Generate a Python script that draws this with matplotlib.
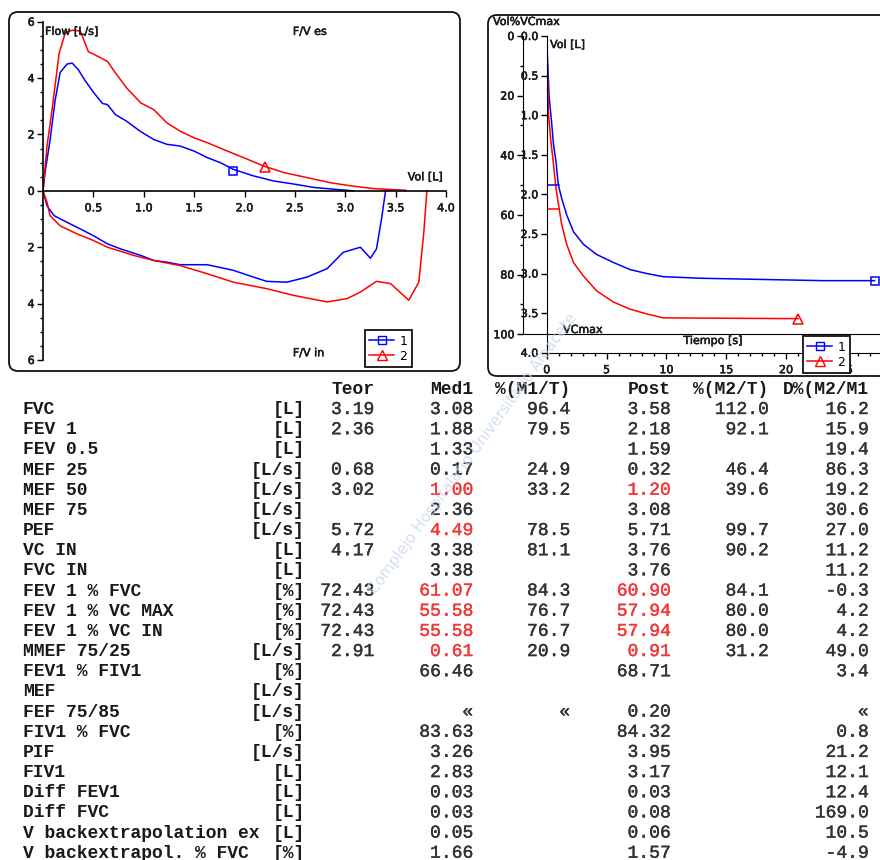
import matplotlib
matplotlib.use("Agg")
import matplotlib.pyplot as plt
import matplotlib.patheffects as pe
from matplotlib.patches import FancyBboxPatch
from matplotlib.lines import Line2D
from matplotlib.ticker import FixedLocator, MultipleLocator, FuncFormatter

W, H = 880, 860
BLUE = "#0000ff"
RED = "#ff0000"
TXT = "#1a1a1a"
NUM = "#333333"
HI = "#f03a3a"

# --- flow / volume loops (1 = Med1, 2 = Post) ---
blue_exp_vol = [0, 0.02, 0.07, 0.12, 0.17, 0.24, 0.29, 0.35, 0.42, 0.50, 0.59, 0.64, 0.72, 0.83,
                0.97, 1.10, 1.23, 1.36, 1.50, 1.63, 1.76, 1.89, 2.09, 2.29, 2.49, 2.69, 2.88, 3.08]
blue_exp_flow = [0, 0.65, 1.8, 3.2, 4.2, 4.5, 4.53, 4.3, 3.9, 3.5, 3.1, 3.06, 2.7, 2.47,
                 2.1, 1.82, 1.65, 1.59, 1.41, 1.18, 1.0, 0.76, 0.53, 0.35, 0.24, 0.12, 0.06, 0.0]
blue_in_vol = [0, 0.04, 0.11, 0.24, 0.37, 0.50, 0.64, 0.77, 0.97, 1.10, 1.23, 1.36, 1.63, 1.89,
               2.09, 2.22, 2.42, 2.62, 2.82, 2.98, 3.15, 3.25, 3.31, 3.36, 3.40]
blue_in_flow = [0, -0.53, -0.88, -1.12, -1.35, -1.59, -1.88, -2.06, -2.29, -2.47, -2.53, -2.62, -2.62, -2.82,
                -3.06, -3.21, -3.24, -3.06, -2.76, -2.18, -2.0, -2.39, -2.06, -1.0, 0.0]
red_exp_vol = [0, 0.04, 0.09, 0.16, 0.22, 0.29, 0.37, 0.45, 0.55, 0.64, 0.72, 0.83, 0.97, 1.10,
               1.23, 1.36, 1.50, 1.63, 1.83, 1.99, 2.19, 2.39, 2.62, 2.85, 3.05, 3.28, 3.60]
red_exp_flow = [0, 1.59, 2.88, 4.88, 5.59, 5.7, 5.67, 4.94, 4.76, 4.59, 4.18, 3.65, 3.12, 2.88,
                2.41, 2.12, 1.88, 1.71, 1.41, 1.18, 0.88, 0.65, 0.47, 0.29, 0.18, 0.08, 0.02]
red_in_vol = [0, 0.04, 0.07, 0.17, 0.34, 0.50, 0.64, 0.90, 1.10, 1.36, 1.63, 1.89, 2.22, 2.49,
              2.82, 3.02, 3.15, 3.31, 3.45, 3.63, 3.73, 3.78, 3.81]
red_in_flow = [0, -0.41, -0.88, -1.24, -1.53, -1.76, -2.0, -2.29, -2.47, -2.65, -2.94, -3.24, -3.47, -3.71,
               -3.94, -3.82, -3.59, -3.21, -3.29, -3.88, -3.24, -1.47, 0.0]
fv_marker_blue = (1.89, 0.72)
fv_marker_red = (2.20, 0.85)

# --- volume / time ---
blue_t = [0, 0.05, 0.2, 0.42, 0.56, 0.78, 0.97, 1.25, 1.67, 2.23, 3.06, 4.18, 5.57, 6.96, 8.36, 9.75, 12.95, 23.1, 27.4]
blue_v = [0, 0.22, 0.76, 1.11, 1.36, 1.59, 1.88, 2.05, 2.26, 2.47, 2.63, 2.76, 2.86, 2.95, 3.0, 3.04, 3.06, 3.09, 3.09]
red_t = [0, 0.14, 0.33, 0.56, 0.78, 1.03, 1.25, 1.67, 2.23, 3.06, 4.18, 5.57, 6.96, 8.36, 9.75, 21.0]
red_v = [0, 0.97, 1.3, 1.61, 1.93, 2.17, 2.38, 2.63, 2.86, 3.03, 3.22, 3.36, 3.45, 3.51, 3.56, 3.57]
fev1_med1 = 1.88
fev1_post = 2.18

# --- results table ---
header = ["Teor", "Med1", "%(M1/T)", "Post", "%(M2/T)", "D%(M2/M1"]
params = ["FVC", "FEV 1", "FEV 0.5", "MEF 25", "MEF 50", "MEF 75", "PEF", "VC IN", "FVC IN",
          "FEV 1 % FVC", "FEV 1 % VC MAX", "FEV 1 % VC IN", "MMEF 75/25", "FEV1 % FIV1", "MEF",
          "FEF 75/85", "FIV1 % FVC", "PIF", "FIV1", "Diff FEV1", "Diff FVC",
          "V backextrapolation ex", "V backextrapol. % FVC"]
units = ["[L]", "[L]", "[L]", "[L/s]", "[L/s]", "[L/s]", "[L/s]", "[L]", "[L]", "[%]", "[%]", "[%]",
         "[L/s]", "[%]", "[L/s]", "[L/s]", "[%]", "[L/s]", "[L]", "[L]", "[L]", "[L]", "[%]"]
teor = ["3.19", "2.36", "", "0.68", "3.02", "", "5.72", "4.17", "", "72.43", "72.43", "72.43",
        "2.91", "", "", "", "", "", "", "", "", "", ""]
med1 = ["3.08", "1.88", "1.33", "0.17", "1.00", "2.36", "4.49", "3.38", "3.38", "61.07", "55.58", "55.58",
        "0.61", "66.46", "", "«", "83.63", "3.26", "2.83", "0.03", "0.03", "0.05", "1.66"]
pct_m1t = ["96.4", "79.5", "", "24.9", "33.2", "", "78.5", "81.1", "", "84.3", "76.7", "76.7",
           "20.9", "", "", "«", "", "", "", "", "", "", ""]
post = ["3.58", "2.18", "1.59", "0.32", "1.20", "3.08", "5.71", "3.76", "3.76", "60.90", "57.94", "57.94",
        "0.91", "68.71", "", "0.20", "84.32", "3.95", "3.17", "0.03", "0.08", "0.06", "1.57"]
pct_m2t = ["112.0", "92.1", "", "46.4", "39.6", "", "99.7", "90.2", "", "84.1", "80.0", "80.0",
           "31.2", "", "", "", "", "", "", "", "", "", ""]
d_pct = ["16.2", "15.9", "19.4", "86.3", "19.2", "30.6", "27.0", "11.2", "11.2", "-0.3", "4.2", "4.2",
         "49.0", "3.4", "", "«", "0.8", "21.2", "12.1", "12.4", "169.0", "10.5", "-4.9"]
red_med1_rows = [4, 6, 9, 10, 11, 12]
red_post_rows = [4, 9, 10, 11, 12]


def px_rect(x0, y0, x1, y1):
    return [x0 / W, 1 - y1 / H, (x1 - x0) / W, (y1 - y0) / H]


def heavy(color, lw=0.5):
    return [pe.withStroke(linewidth=lw, foreground=color)]


def style_ticks(ax):
    ax.tick_params(which="major", direction="out", length=4, width=1, color="black",
                   labelsize=8, labelcolor=TXT, pad=2)
    ax.tick_params(which="minor", direction="out", length=2.5, width=1, color="black")
    for lab in ax.get_xticklabels() + ax.get_yticklabels():
        lab.set_path_effects(heavy(TXT, 0.4))


fig = plt.figure(figsize=(W / 100, H / 100), dpi=100, facecolor="white")

# background layer in pixel coordinates
bg = fig.add_axes([0, 0, 1, 1], zorder=-5)
bg.set_xlim(0, W)
bg.set_ylim(H, 0)
bg.axis("off")
for (x0, y0, x1, y1) in [(9, 12, 460, 371), (488, 15, 905, 376)]:
    bg.add_patch(FancyBboxPatch((x0, y0), x1 - x0, y1 - y0,
                                boxstyle="round,pad=0,rounding_size=9",
                                facecolor="none", edgecolor="#111111", linewidth=1.3))

# ---------- flow-volume ----------
ax1 = fig.add_axes(px_rect(43, 21.7, 446, 360))
ax1.set_facecolor("none")
ax1.plot(blue_exp_vol, blue_exp_flow, color=BLUE, lw=1.1)
ax1.plot(blue_in_vol, blue_in_flow, color=BLUE, lw=1.1)
ax1.plot(red_exp_vol, red_exp_flow, color=RED, lw=1.1)
ax1.plot(red_in_vol, red_in_flow, color=RED, lw=1.1)
ax1.plot(*fv_marker_blue, marker="s", ms=6, mfc="none", mec=BLUE, mew=1.1)
ax1.plot(*fv_marker_red, marker="^", ms=6.5, mfc="none", mec=RED, mew=1.1)
ax1.set_xlim(0, 4.0)
ax1.set_ylim(-6, 6)
ax1.spines["top"].set_visible(False)
ax1.spines["right"].set_visible(False)
ax1.spines["bottom"].set_position(("data", 0))
ax1.spines["left"].set_linewidth(1.2)
ax1.spines["bottom"].set_linewidth(1.2)
ax1.xaxis.set_major_locator(FixedLocator([0.5, 1.0, 1.5, 2.0, 2.5, 3.0, 3.5, 4.0]))
ax1.xaxis.set_major_formatter(FuncFormatter(lambda v, p: f"{v:.1f}"))
ax1.yaxis.set_major_locator(MultipleLocator(2))
ax1.yaxis.set_minor_locator(MultipleLocator(0.5))
ax1.yaxis.set_major_formatter(FuncFormatter(lambda v, p: f"{abs(v):g}"))
style_ticks(ax1)
ax1.tick_params(axis="x", pad=5)
for s, xx, yy in [("Flow [L/s]", 0.005, 0.97), ("F/V es", 0.62, 0.97),
                  ("Vol [L]", 0.905, 0.54), ("F/V in", 0.62, 0.02)]:
    ax1.text(xx, yy, s, transform=ax1.transAxes, fontsize=8, color=TXT, va="center",
             path_effects=heavy(TXT, 0.4))

handles = [Line2D([], [], color=BLUE, lw=1.1, marker="s", ms=6, mfc="none", mec=BLUE),
           Line2D([], [], color=RED, lw=1.1, marker="^", ms=6.5, mfc="none", mec=RED)]
for (lx, ly) in [(365, 367), (803, 373)]:
    leg = fig.legend(handles, ["1", "2"], loc="lower left",
                     bbox_to_anchor=(lx / W, 1 - ly / H), bbox_transform=fig.transFigure,
                     fontsize=9, fancybox=False, framealpha=1, edgecolor="#111111",
                     handlelength=2.0, handletextpad=0.4, borderpad=0.35,
                     labelspacing=0.15, borderaxespad=0)
    leg.get_frame().set_linewidth(1.3)

# ---------- volume-time ----------
axp = fig.add_axes(px_rect(522.7, 36, 880, 334.3))
axp.set_facecolor("none")
axp.set_xlim(0, 1)
axp.set_ylim(100, 0)
axp.spines["top"].set_visible(False)
axp.spines["right"].set_visible(False)
axp.set_xticks([])
axp.yaxis.set_major_locator(MultipleLocator(20))
axp.yaxis.set_minor_locator(MultipleLocator(10))
style_ticks(axp)

axv = fig.add_axes(px_rect(546.7, 36, 880, 352.7))
axv.set_facecolor("none")
axv.plot(blue_t, blue_v, color=BLUE, lw=1.1)
axv.plot(red_t, red_v, color=RED, lw=1.1)
axv.plot([0, 1], [fev1_med1, fev1_med1], color=BLUE, lw=1.1)
axv.plot([0, 1], [fev1_post, fev1_post], color=RED, lw=1.1)
axv.plot(blue_t[-1], blue_v[-1], marker="s", ms=6, mfc="none", mec=BLUE, mew=1.1, clip_on=False)
axv.plot(red_t[-1], red_v[-1], marker="^", ms=6.5, mfc="none", mec=RED, mew=1.1)
axv.set_xlim(0, 27.85)
axv.set_ylim(4.0, 0)
axv.spines["top"].set_visible(False)
axv.spines["right"].set_visible(False)
axv.xaxis.set_major_locator(MultipleLocator(5))
axv.xaxis.set_minor_locator(MultipleLocator(1))
axv.yaxis.set_major_locator(MultipleLocator(0.5))
axv.yaxis.set_major_formatter(FuncFormatter(lambda v, p: f"{v:.1f}"))
style_ticks(axv)
axv.tick_params(axis="x", pad=5)

for s, xx, yy, ha in [("Vol%VCmax", 493, 22, "left"), ("Vol [L]", 550, 45, "left"),
                      ("VCmax", 563, 330, "left"), ("Tiempo [s]", 713, 341, "center")]:
    bg.text(xx, yy, s, fontsize=8, color=TXT, va="center", ha=ha, path_effects=heavy(TXT, 0.4))

# ---------- table ----------
mono = "Liberation Mono"
fs = 13
col_right = [374, 473, 570, 670.5, 768.5, 868.5]
hb = 394.5
for x, h in zip(col_right, header):
    bg.text(x, hb, h, family=mono, fontsize=fs, weight="bold", color=TXT, ha="right", va="baseline")

cols = [teor, med1, pct_m1t, post, pct_m2t, d_pct]
for i, name in enumerate(params):
    yb = 414 + i * 20.17
    bg.text(23, yb, name, family=mono, fontsize=fs, weight="bold", color=TXT, va="baseline")
    bg.text(305, yb, units[i], family=mono, fontsize=fs, weight="bold", color=TXT, ha="right", va="baseline")
    for j, col in enumerate(cols):
        c = NUM
        if (j == 1 and i in red_med1_rows) or (j == 3 and i in red_post_rows):
            c = HI
        bg.text(col_right[j], yb, col[i], family=mono, fontsize=fs, color=c, ha="right", va="baseline",
                path_effects=heavy(c, 0.3))

# watermark
fig.text((353 + 593) / 2 / W, 1 - (620 + 287) / 2 / H, "Complejo Hospitalario Universitario Albacete",
         rotation=54, ha="center", va="center", rotation_mode="anchor",
         fontsize=11, color="#c9d8f2", alpha=0.8, zorder=10)

fig.savefig("out.png", dpi=100, facecolor="white")
